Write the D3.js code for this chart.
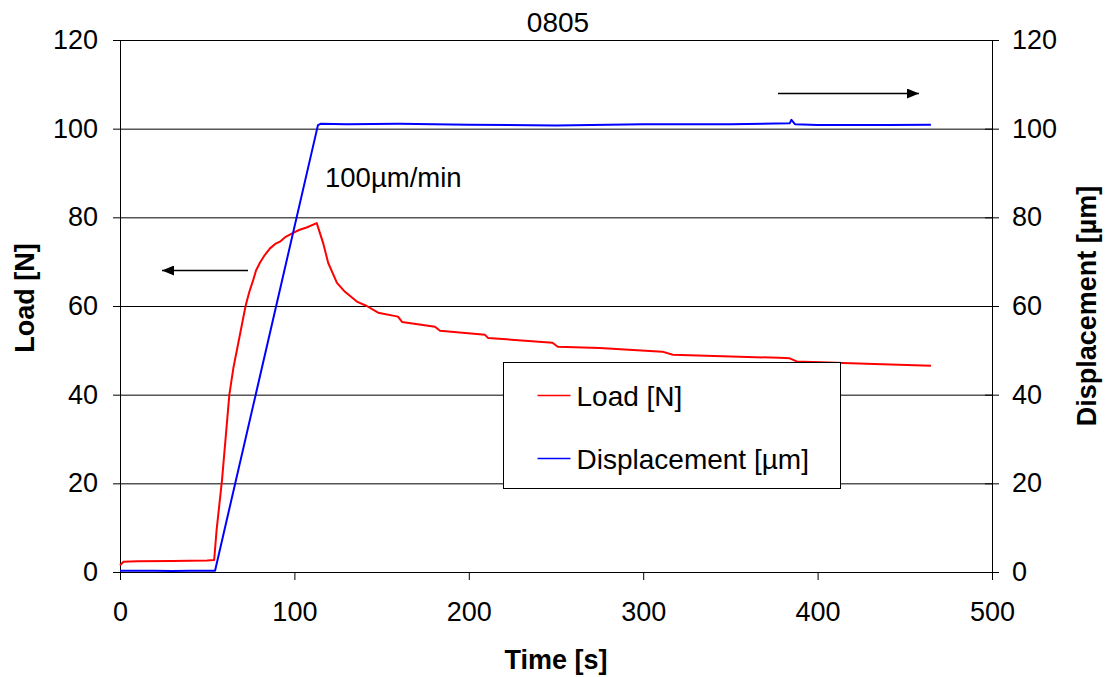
<!DOCTYPE html>
<html>
<head>
<meta charset="utf-8">
<script src="https://cdnjs.cloudflare.com/ajax/libs/d3/7.8.5/d3.min.js"></script>
<style>
	body { margin: 0; background: #fff; }
	text { font-family: "Liberation Sans", Arial, sans-serif; fill: #000; }
	.domain { stroke: #000; }
	.tick line { stroke: #000; }
</style>
</head>
<body>
<div id="dataviz-container"></div>
<script>
// values
var chartTitle = "0805";
var loadTime = [0, 2, 10, 30, 50, 54, 55.4, 58.5, 62.7, 65, 68, 72, 74, 76.5, 78, 80.3, 83, 86, 89, 91.7, 95, 99.3, 103, 107, 112.8, 116.4, 119.4, 124.4, 129, 135.8, 141.5, 148, 159.4, 161.7, 180.6, 183.5, 209.3, 211, 248, 251, 275, 311, 317, 378, 384, 388, 428, 465];
var loadValues = [1.5, 2.3, 2.4, 2.5, 2.6, 2.7, 9.5, 20.8, 40, 46, 52, 60, 63, 66, 68, 69.8, 71.5, 73, 74, 74.5, 75.6, 76.5, 77.2, 77.7, 78.7, 74.3, 69.7, 65.2, 63.2, 61, 60, 58.5, 57.6, 56.4, 55.3, 54.4, 53.5, 52.8, 51.7, 50.8, 50.5, 49.7, 49, 48.3, 48.2, 47.5, 47, 46.5];
var dispTime = [0, 10, 20, 30, 40, 50, 54.5, 113.5, 115, 130, 160, 200, 250, 300, 350, 384, 385, 387, 400, 440, 465];
var dispValues = [0.3, 0.3, 0.3, 0.2, 0.3, 0.3, 0.3, 100.8, 101.1, 101, 101.1, 100.9, 100.7, 101, 101, 101.2, 102, 101, 100.8, 100.8, 100.9];
var timeTicks = [0, 100, 200, 300, 400, 500];
var loadTicks = [0, 20, 40, 60, 80, 100, 120];
var dispTicks = [0, 20, 40, 60, 80, 100, 120];
var seriesNames = ["Load [N]", "Displacement [µm]"];
var seriesColors = ["#ff0000", "#0000ff"];

var width = 1109,
	height = 677,
	margins = {"top": 40, "bottom": 105, "left": 120, "right": 117},
	fontSize = 27;

var svg = d3.select("#dataviz-container")
	.append("svg")
	.attr("width", width)
	.attr("height", height)

svg.append("rect")
	.attr("width", width)
	.attr("height", height)
	.attr("fill", "#fff")

var xScale = d3.scaleLinear()
	.domain([0, 500])
	.range([margins.left, width - margins.right])

var yLoad = d3.scaleLinear()
	.domain([0, 120])
	.range([height - margins.bottom, margins.top])

var yDisp = d3.scaleLinear()
	.domain([0, 120])
	.range([height - margins.bottom, margins.top])

// horizontal gridlines
svg.append("g")
	.attr("class", "grid")
	.attr("transform", "translate(" + margins.left + ",0)")
	.call(d3.axisLeft(yLoad)
		.tickValues(loadTicks.slice(1))
		.tickSize(-(width - margins.left - margins.right))
		.tickFormat(""))
	.call(function(g) { g.select(".domain").remove() })

var leftAxis = svg.append("g")
	.attr("transform", "translate(" + margins.left + ",0)")
	.call(d3.axisLeft(yLoad)
		.tickValues(loadTicks)
		.tickSizeInner(7)
		.tickSizeOuter(0)
		.tickPadding(15))

var rightAxis = svg.append("g")
	.attr("transform", "translate(" + (width - margins.right) + ",0)")
	.call(d3.axisRight(yDisp)
		.tickValues(dispTicks)
		.tickSizeInner(7)
		.tickSizeOuter(0)
		.tickPadding(13))

// right ticks cross the axis
rightAxis.selectAll(".tick line").attr("x1", -7)

var bottomAxis = svg.append("g")
	.attr("transform", "translate(0," + (height - margins.bottom) + ")")
	.call(d3.axisBottom(xScale)
		.tickValues(timeTicks)
		.tickSizeInner(8)
		.tickSizeOuter(0)
		.tickPadding(22))

svg.selectAll(".tick text")
	.style("font-size", fontSize + "px")
	.style("font-family", "'Liberation Sans', Arial, sans-serif")

// lines
var loadLine = d3.line()
	.x(function(d, i) { return xScale(loadTime[i]) })
	.y(function(d) { return yLoad(d) })

var dispLine = d3.line()
	.x(function(d, i) { return xScale(dispTime[i]) })
	.y(function(d) { return yDisp(d) })

svg.append("path")
	.attr("d", loadLine(loadValues))
	.attr("fill", "none")
	.attr("stroke", seriesColors[0])
	.attr("stroke-width", 2)
	.attr("stroke-linejoin", "round")

svg.append("path")
	.attr("d", dispLine(dispValues))
	.attr("fill", "none")
	.attr("stroke", seriesColors[1])
	.attr("stroke-width", 2)
	.attr("stroke-linejoin", "round")

// titles
svg.append("text")
	.text(chartTitle)
	.attr("x", 558)
	.attr("y", 32)
	.attr("text-anchor", "middle")
	.style("font-size", "28px")

svg.append("text")
	.text("Time [s]")
	.attr("x", 556)
	.attr("y", 669)
	.attr("text-anchor", "middle")
	.style("font-size", fontSize + "px")
	.style("font-weight", "bold")

svg.append("text")
	.text("Load [N]")
	.attr("transform", "translate(34,298) rotate(-90)")
	.attr("text-anchor", "middle")
	.style("font-size", fontSize + "px")
	.style("font-weight", "bold")

svg.append("text")
	.text("Displacement [µm]")
	.attr("transform", "translate(1096,306) rotate(-90)")
	.attr("text-anchor", "middle")
	.style("font-size", fontSize + "px")
	.style("font-weight", "bold")

svg.append("text")
	.text("100µm/min")
	.attr("x", 325)
	.attr("y", 187)
	.style("font-size", "27.5px")

// arrows
svg.append("defs").append("marker")
	.attr("id", "head")
	.attr("viewBox", "0 0 12 10")
	.attr("refX", 12)
	.attr("refY", 5)
	.attr("markerWidth", 12)
	.attr("markerHeight", 10)
	.attr("markerUnits", "userSpaceOnUse")
	.attr("orient", "auto")
	.append("path")
	.attr("d", "M0,0L12,5L0,10Z")
	.attr("fill", "#000")

svg.append("line")
	.attr("x1", 248).attr("y1", 270.5)
	.attr("x2", 162).attr("y2", 270.5)
	.attr("stroke", "#000")
	.attr("stroke-width", 1.5)
	.attr("marker-end", "url(#head)")

svg.append("line")
	.attr("x1", 778).attr("y1", 93.5)
	.attr("x2", 919).attr("y2", 93.5)
	.attr("stroke", "#000")
	.attr("stroke-width", 1.5)
	.attr("marker-end", "url(#head)")

// legend
var legend = svg.append("g")
	.attr("transform", "translate(503.5,362.5)")

legend.append("rect")
	.attr("width", 337)
	.attr("height", 126)
	.attr("fill", "#fff")
	.attr("stroke", "#000")
	.attr("stroke-width", 1)

var legendItems = legend.selectAll("g.item")
	.data(seriesNames)
	.enter()
	.append("g")
	.attr("class", "item")
	.attr("transform", function(d, i) { return "translate(0," + (33 + i * 63) + ")" })

legendItems.append("line")
	.attr("x1", 34)
	.attr("x2", 67)
	.attr("stroke", function(d, i) { return seriesColors[i] })
	.attr("stroke-width", 1.5)

legendItems.append("text")
	.text(function(d) { return d })
	.attr("x", 73)
	.attr("y", 10)
	.style("font-size", "28px")
</script>
</body>
</html>
